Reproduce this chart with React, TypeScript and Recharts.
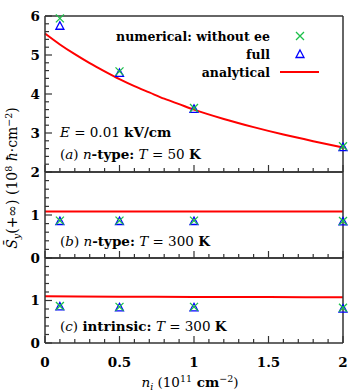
import React from 'react';
import { ComposedChart, Line, Scatter, XAxis, YAxis, Legend } from 'recharts';

const W = 354;
const H = 392;
const LEFT = 45;
const RIGHT = 343;
const AXIS = '#333';
const FONT = "'DejaVu Serif', serif";

// electron density of the simulated points (10^11 cm^-2)
const densities = [0.1, 0.5, 1, 2];

// (a) n-type, T = 50 K
const aNoEe = [5.94, 4.58, 3.64, 2.66];
const aFull = [5.75, 4.54, 3.62, 2.64];
const aCurveX = [0, 0.1, 0.2, 0.3, 0.4, 0.5, 0.6, 0.7, 0.8, 0.9, 1, 1.2, 1.4, 1.6, 1.8, 2];
const aCurveY = [5.55, 5.27, 5.02, 4.79, 4.58, 4.38, 4.2, 4.04, 3.88, 3.74, 3.6, 3.36, 3.15, 2.96, 2.79, 2.63];

// (b) n-type, T = 300 K
const bNoEe = [0.87, 0.87, 0.87, 0.86];
const bFull = [0.86, 0.86, 0.86, 0.85];
const bCurveX = [0, 0.5, 1, 1.5, 2];
const bCurveY = [1.08, 1.08, 1.08, 1.08, 1.08];

// (c) intrinsic, T = 300 K
const cNoEe = [0.87, 0.85, 0.85, 0.83];
const cFull = [0.86, 0.84, 0.84, 0.81];
const cCurveX = [0, 0.5, 1, 1.5, 2];
const cCurveY = [1.1, 1.09, 1.085, 1.08, 1.075];

const xLabels = [0, 0.5, 1, 1.5, 2];
const aYLabels = [2, 3, 4, 5, 6];
const bYLabels = [0, 1];
const cYLabels = [0, 1];
const legendOrder = ['numerical: without ee', 'full', 'analytical'];

const steps = (lo: number, hi: number, st: number) =>
  Array.from({ length: Math.round((hi - lo) / st) + 1 }, (_, i) => +(lo + i * st).toFixed(2));

const xTicks = steps(0, 2, 0.1);
const rows = (xs: number[], ys: number[]) => xs.map((x, i) => ({ x, y: ys[i] }));
const near = (a: number, list: number[]) => list.some((v) => Math.abs(v - a) < 1e-6);

const XTick = ({ x, y, payload, side, labels }: any) => {
  const v = payload.value;
  const major = near(v, xLabels);
  const len = major ? 7 : 4;
  const dir = side === 'bottom' ? -1 : 1;
  return (
    <g>
      <line x1={x} x2={x} y1={y} y2={y + dir * len} stroke={AXIS} strokeWidth={1.2} />
      {labels && major && (
        <text x={x} y={y + 24} textAnchor="middle" fontFamily={FONT} fontWeight="bold" fontSize={13.5} fill="#000">
          {String(v)}
        </text>
      )}
    </g>
  );
};

const YTick = ({ x, y, payload, side, labels }: any) => {
  const v = payload.value;
  const major = Math.abs(v - Math.round(v)) < 1e-6;
  const len = major ? 7 : 4;
  const dir = side === 'left' ? 1 : -1;
  return (
    <g>
      <line x1={x} x2={x + dir * len} y1={y} y2={y} stroke={AXIS} strokeWidth={1.2} />
      {side === 'left' && labels && near(v, labels) && (
        <text x={x - 5} y={y + 4.5} textAnchor="end" fontFamily={FONT} fontWeight="bold" fontSize={13.5} fill="#000">
          {String(v)}
        </text>
      )}
    </g>
  );
};

const Cross = ({ cx, cy }: any) => (
  <path d={`M${cx - 4},${cy - 4}L${cx + 4},${cy + 4}M${cx - 4},${cy + 4}L${cx + 4},${cy - 4}`} stroke="#1cc04a" strokeWidth={1.3} fill="none" />
);

const Tri = ({ cx, cy }: any) => (
  <path d={`M${cx},${cy - 4}L${cx + 4},${cy + 3.5}L${cx - 4},${cy + 3.5}Z`} stroke="#0000ff" strokeWidth={1.3} fill="none" />
);

// legend drawn as svg in page coordinates: text ends at x=270, key centred at x=300
const LegendBox = ({ payload }: any) => {
  const items = [...(payload || [])].sort((a: any, b: any) => legendOrder.indexOf(a.value) - legendOrder.indexOf(b.value));
  return (
    <svg width={W} height={54} style={{ display: 'block' }}>
      {items.map((e: any, i: number) => {
        const cy = 9 + i * 18;
        return (
          <g key={e.value}>
            <text x={270} y={cy + 4.5} textAnchor="end" fontFamily={FONT} fontWeight="bold" fontSize={12.5} fill="#000">
              {e.value}
            </text>
            {e.type === 'line' && <line x1={280} x2={319} y1={cy} y2={cy} stroke="#ff0000" strokeWidth={2} />}
            {e.type === 'cross' && <Cross cx={300} cy={cy} />}
            {e.type === 'triangle' && <Tri cx={300} cy={cy} />}
          </g>
        );
      })}
    </svg>
  );
};

function Panel({ top, bottom, yDomain, yStep, yLabels, showX, noEe, full, curveX, curveY, legend }: any) {
  const yTicks = steps(yDomain[0], yDomain[1], yStep);
  // axes are 1px thick boxes, so the margins are shrunk by 1 to keep the plot frame in place
  return (
    <div style={{ position: 'absolute', left: 0, top: 0 }}>
      <ComposedChart width={W} height={H} margin={{ top: top - 1, bottom: H - bottom - 1, left: LEFT - 1, right: W - RIGHT - 1 }}>
        <XAxis xAxisId="b" dataKey="x" type="number" domain={[0, 2]} ticks={xTicks} interval={0} orientation="bottom"
          height={1} tickSize={0} tickMargin={0} tickLine={false} stroke={AXIS} strokeWidth={1.5}
          tick={(p: any) => <XTick {...p} side="bottom" labels={showX} />} />
        <XAxis xAxisId="t" type="number" domain={[0, 2]} ticks={xTicks} interval={0} orientation="top"
          height={1} tickSize={0} tickMargin={0} tickLine={false} stroke={AXIS} strokeWidth={1.5}
          tick={(p: any) => <XTick {...p} side="top" labels={false} />} />
        <YAxis yAxisId="l" dataKey="y" type="number" domain={yDomain} ticks={yTicks} interval={0} orientation="left"
          width={1} tickSize={0} tickMargin={0} tickLine={false} stroke={AXIS} strokeWidth={1.5}
          tick={(p: any) => <YTick {...p} side="left" labels={yLabels} />} />
        <YAxis yAxisId="r" type="number" domain={yDomain} ticks={yTicks} interval={0} orientation="right"
          width={1} tickSize={0} tickMargin={0} tickLine={false} stroke={AXIS} strokeWidth={1.5}
          tick={(p: any) => <YTick {...p} side="right" labels={null} />} />
        <Line xAxisId="b" yAxisId="l" name="analytical" data={rows(curveX, curveY)} dataKey="y" type="monotone"
          stroke="#ff0000" strokeWidth={2} dot={false} isAnimationActive={false} />
        <Scatter xAxisId="b" yAxisId="l" name="full" data={rows(densities, full)} dataKey="y"
          fill="#0000ff" legendType="triangle" shape={Tri} isAnimationActive={false} />
        <Scatter xAxisId="b" yAxisId="l" name="numerical: without ee" data={rows(densities, noEe)} dataKey="y"
          fill="#1cc04a" legendType="cross" shape={Cross} isAnimationActive={false} />
        {legend && (
          <Legend verticalAlign="middle" align="center" layout="horizontal" content={LegendBox}
            wrapperStyle={{ position: 'absolute', left: 0, top: 27, width: W, height: 54, margin: 0, padding: 0 }} />
        )}
      </ComposedChart>
    </div>
  );
}

const sup = { fontSize: 9.5 };

export default function App() {
  return (
    <div style={{ position: 'absolute', left: 0, top: 0, width: W, height: H, background: '#fff' }}>
      <Panel top={16} bottom={172} yDomain={[2, 6]} yStep={0.2} yLabels={aYLabels} showX={false}
        noEe={aNoEe} full={aFull} curveX={aCurveX} curveY={aCurveY} legend />
      <Panel top={172} bottom={258} yDomain={[0, 2]} yStep={0.2} yLabels={bYLabels} showX={false}
        noEe={bNoEe} full={bFull} curveX={bCurveX} curveY={bCurveY} />
      <Panel top={258} bottom={343} yDomain={[0, 2]} yStep={0.2} yLabels={cYLabels} showX
        noEe={cNoEe} full={cFull} curveX={cCurveX} curveY={cCurveY} />
      <svg width={W} height={H} style={{ position: 'absolute', left: 0, top: 0, pointerEvents: 'none' }}
        fontFamily={FONT} fontSize={13.5} fill="#000">
        <text x={60} y={137}>
          <tspan fontStyle="italic">E</tspan> = 0.01 <tspan fontWeight="bold">kV/cm</tspan>
        </text>
        <text x={60} y={159}>
          (<tspan fontStyle="italic">a</tspan>) <tspan fontStyle="italic">n</tspan><tspan fontWeight="bold">-type:</tspan>{' '}
          <tspan fontStyle="italic">T</tspan> = 50 <tspan fontWeight="bold">K</tspan>
        </text>
        <text x={60} y={246}>
          (<tspan fontStyle="italic">b</tspan>) <tspan fontStyle="italic">n</tspan><tspan fontWeight="bold">-type:</tspan>{' '}
          <tspan fontStyle="italic">T</tspan> = 300 <tspan fontWeight="bold">K</tspan>
        </text>
        <text x={60} y={331}>
          (<tspan fontStyle="italic">c</tspan>) <tspan fontWeight="bold">intrinsic:</tspan>{' '}
          <tspan fontStyle="italic">T</tspan> = 300 <tspan fontWeight="bold">K</tspan>
        </text>
        <text transform="translate(17,178) rotate(-90)" textAnchor="middle" fontSize={14}>
          <tspan fontStyle="italic">{'S\u0304'}</tspan>
          <tspan fontStyle="italic" style={sup} dy={3}>y</tspan>
          <tspan dy={-3}>(+∞) (10</tspan>
          <tspan style={sup} dy={-5}>8</tspan>
          <tspan dy={5}> </tspan>
          <tspan fontStyle="italic">ħ</tspan>
          <tspan>·cm</tspan>
          <tspan style={sup} dy={-5}>−2</tspan>
          <tspan dy={5}>)</tspan>
        </text>
        <text x={190} y={387} textAnchor="middle">
          <tspan fontStyle="italic">n</tspan>
          <tspan fontStyle="italic" style={sup} dy={3}>i</tspan>
          <tspan dy={-3}> (10</tspan>
          <tspan style={sup} dy={-5}>11</tspan>
          <tspan dy={5} fontWeight="bold"> cm</tspan>
          <tspan style={sup} dy={-5}>−2</tspan>
          <tspan dy={5}>)</tspan>
        </text>
      </svg>
    </div>
  );
}
